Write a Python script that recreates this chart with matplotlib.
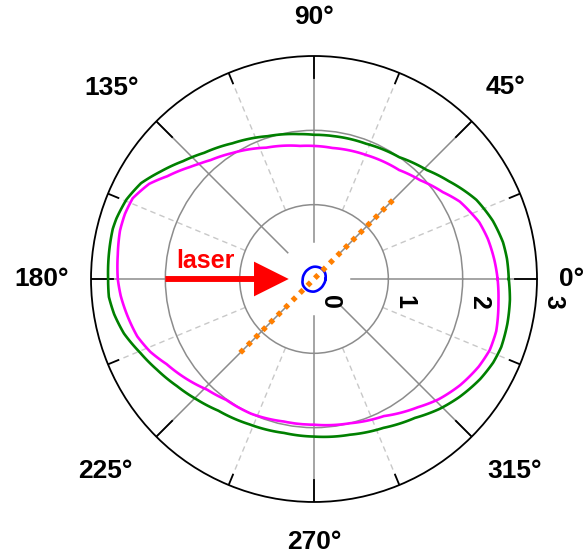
import numpy as np
import matplotlib
matplotlib.use("Agg")
import matplotlib.pyplot as plt
import matplotlib.transforms as mtransforms

plt.rcParams['font.family'] = ['Liberation Sans', 'DejaVu Sans']

# --- data (angle in degrees, radius) ---
green_deg = [0, 6, 11, 18, 26, 36, 44, 55, 69, 82, 90, 96, 108, 121, 131, 138,
             145, 151, 157, 163, 166, 173, 180, 185, 190, 196, 203, 210, 218,
             226, 234, 246, 259, 270, 283, 295, 306, 314, 321, 329, 335, 340,
             347, 354, 360]
green_r = [2.62, 2.61, 2.59, 2.53, 2.43, 2.24, 2.11, 2.00, 1.95, 1.94, 1.94,
           1.96, 2.02, 2.13, 2.25, 2.37, 2.52, 2.66, 2.74, 2.78, 2.79, 2.78,
           2.77, 2.77, 2.73, 2.66, 2.54, 2.44, 2.34, 2.26, 2.19, 2.14, 2.11,
           2.12, 2.15, 2.21, 2.31, 2.43, 2.52, 2.61, 2.66, 2.68, 2.67, 2.65,
           2.62]

magenta_deg = [0, 6, 13, 19, 23, 28, 34, 43, 52, 67, 82, 90, 96, 110, 123, 131,
               135, 138, 145, 150, 156, 161, 166, 173, 180, 185, 191, 198, 204,
               210, 218, 226, 234, 245, 258, 270, 284, 297, 309, 316, 324, 332,
               338, 344, 353, 360]
magenta_r = [2.47, 2.44, 2.40, 2.35, 2.29, 2.22, 2.09, 1.95, 1.86, 1.81, 1.78,
             1.79, 1.80, 1.88, 2.02, 2.12, 2.19, 2.25, 2.41, 2.56, 2.67, 2.69,
             2.69, 2.66, 2.64, 2.61, 2.56, 2.50, 2.41, 2.29, 2.18, 2.07, 2.01,
             2.00, 1.96, 1.96, 2.00, 2.07, 2.22, 2.33, 2.43, 2.51, 2.55, 2.55,
             2.50, 2.47]

blue_deg = [0, 30, 60, 90, 120, 150, 180, 210, 240, 270, 300, 330, 360]
blue_r = [0.155, 0.17, 0.172, 0.165, 0.152, 0.148, 0.152, 0.17, 0.175, 0.17,
          0.155, 0.148, 0.155]

# polarisation line (orange) and laser arrow
pol_deg = [45, 225]
pol_r = [1.5, 1.45]
laser_deg = 180
laser_r = [2.0, 0.34]

angle_labels = ['0°', '45°', '90°', '135°', '180°', '225°', '270°', '315°']
angle_label_deg = [0, 45, 90, 136.7, 180, 222.6, 270, 316.3]
angle_label_r = [3.47, 3.65, 3.52, 3.74, 3.66, 3.81, 3.54, 3.73]
radial_ticks = [0, 1, 2, 3]

GRID = '#8c8c8c'


def curve(deg, r, **kw):
    line, = ax.plot(np.deg2rad(deg), r, **kw)
    # let the polar transform draw each segment as a curved arc
    line.get_path()._interpolation_steps = 30
    return line


fig = plt.figure(figsize=(5.86, 5.6), dpi=100)
ax = fig.add_axes([0.1553, 0.1036, 0.7611, 0.7964], projection='polar')
ax.set_ylim(0, 3)
ax.set_xticks([])
ax.set_yticks([1, 2])
ax.set_yticklabels([])
ax.yaxis.grid(True, color=GRID, lw=1.1)
ax.tick_params(axis='y', length=0)
ax.spines['polar'].set_color('black')
ax.spines['polar'].set_linewidth(1.3)

# spokes, dashed spokes and edge ticks
for k in range(8):
    t = np.deg2rad(45 * k)
    ax.plot([t, t], [0.5, 3], color=GRID, lw=1.1, zorder=1)
    ax.plot([t, t], [2.7, 3], color='black', lw=1.3, zorder=2)
    t2 = np.deg2rad(45 * k + 22.5)
    ax.plot([t2, t2], [1, 3], color='#c8c8c8', lw=1.0, ls=(0, (4, 3)), zorder=1)
    ax.plot([t2, t2], [2.85, 3], color='black', lw=1.3, zorder=2)

# data curves
curve(green_deg, green_r, color='#008000', lw=1.9, zorder=3)
curve(magenta_deg, magenta_r, color='#ff00ff', lw=1.9, zorder=3)
curve(blue_deg, blue_r, color='#0000ff', lw=1.9, zorder=4)
ax.plot(np.deg2rad(pol_deg), pol_r, color='#ff7f00', lw=3.8,
        ls=(0, (0.9, 1.1)), zorder=5)

# laser arrow
ax.annotate('', xy=(np.deg2rad(laser_deg), laser_r[1]),
            xytext=(np.deg2rad(laser_deg), laser_r[0]),
            arrowprops=dict(arrowstyle='simple,head_length=1.0,head_width=1.0,tail_width=0.17',
                            color='#ff0000', mutation_scale=25,
                            shrinkA=0, shrinkB=0, lw=0),
            zorder=6)
ax.text(np.deg2rad(174.2), 1.47, 'laser', color='#ff0000', fontsize=18,
        fontweight='bold', ha='center', va='baseline', zorder=6)

# angle labels
for lab, d, r in zip(angle_labels, angle_label_deg, angle_label_r):
    ax.text(np.deg2rad(d), r, lab, fontsize=19,
            fontweight='bold', ha='center', va='center')

# radial labels, rotated, just below the 0 deg line
off = mtransforms.offset_copy(ax.transData, fig=fig, x=16, y=-23, units='dots')
for v in radial_ticks:
    ax.text(0, v, str(v), transform=off, rotation=-90, fontsize=18,
            fontweight='bold', ha='center', va='center')

fig.savefig('out.png', dpi=100)
